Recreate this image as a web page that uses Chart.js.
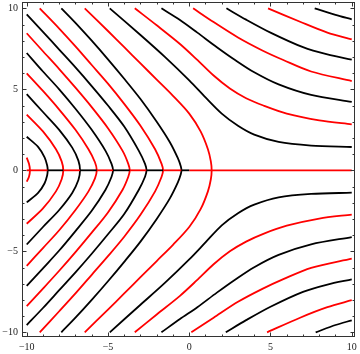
<!DOCTYPE html>
<html>
<head>
<meta charset="utf-8">
<script src="https://cdn.jsdelivr.net/npm/chart.js@4/dist/chart.umd.min.js"></script>
<style>
  html, body { margin: 0; padding: 0; background: #fff; }
</style>
</head>
<body>
<canvas id="myChart" width="360" height="354"></canvas>
<script>
// tick labels
const xTickLabels = [-10, -5, 0, 5, 10];
const yTickLabels = [-10, -5, 0, 5, 10];

// curves that cross the axis on the left
const a1 = [[-10, 0.78], [-9.86, 0.4], [-9.8, 0], [-9.86, -0.4], [-10, -0.7]];
const a2 = [[-10, 2.07], [-9.3, 1.45], [-8.9, 0.8], [-8.74, 0.3], [-8.71, 0], [-8.74, -0.3], [-8.9, -0.8], [-9.3, -1.4], [-10, -1.98]];
const a3 = [[-10, 3.44], [-9, 2.4], [-8.2, 1.3], [-7.85, 0.55], [-7.75, 0], [-7.85, -0.55], [-8.2, -1.3], [-9, -2.35], [-10, -3.3]];
const a4 = [[-10, 4.7], [-9, 3.6], [-8, 2.5], [-7.2, 1.4], [-6.82, 0.6], [-6.72, 0], [-6.82, -0.6], [-7.2, -1.4], [-8, -2.45], [-9, -3.5], [-10, -4.58]];
const a5 = [[-10, 5.99], [-9, 4.9], [-8, 3.75], [-7, 2.5], [-6.2, 1.3], [-5.8, 0.5], [-5.69, 0], [-5.8, -0.5], [-6.2, -1.3], [-7, -2.45], [-8, -3.7], [-9, -4.8], [-10, -5.9]];
const a6 = [[-10, 7.24], [-9, 6.1], [-8, 5.0], [-7, 3.8], [-6, 2.5], [-5.15, 1.2], [-4.78, 0.4], [-4.69, 0], [-4.78, -0.4], [-5.15, -1.2], [-6, -2.5], [-7, -3.75], [-8, -4.95], [-9, -6.05], [-10, -7.14]];
const a7 = [[-10, 8.46], [-9, 7.35], [-8, 6.25], [-7, 5.1], [-6, 3.9], [-5, 2.6], [-4.1, 1.2], [-3.75, 0.4], [-3.66, 0], [-3.75, -0.4], [-4.1, -1.2], [-5, -2.6], [-6, -3.85], [-7, -5.05], [-8, -6.2], [-9, -7.3], [-10, -8.38]];
const a8 = [[-10, 9.62], [-9, 8.55], [-8, 7.45], [-7, 6.35], [-6, 5.2], [-5, 4.0], [-4, 2.7], [-3.1, 1.2], [-2.72, 0.4], [-2.63, 0], [-2.72, -0.4], [-3.1, -1.2], [-4, -2.7], [-5, -3.95], [-6, -5.15], [-7, -6.3], [-8, -7.4], [-9, -8.5], [-10, -9.55]];
const c1 = [[-9.2, 10], [-8, 8.75], [-7, 7.65], [-6, 6.5], [-5, 5.35], [-4, 4.1], [-3, 2.75], [-2.1, 1.3], [-1.7, 0.4], [-1.61, 0], [-1.7, -0.4], [-2.1, -1.3], [-3, -2.75], [-4, -4.1], [-5, -5.3], [-6, -6.45], [-7, -7.6], [-8, -8.7], [-9.2, -10]];
const c2 = [[-7.87, 10], [-7, 9.1], [-6, 8.0], [-5, 6.85], [-4, 5.65], [-3, 4.4], [-2, 3.0], [-1.2, 1.75], [-0.7, 0.75], [-0.52, 0.25], [-0.48, 0], [-0.52, -0.25], [-0.7, -0.75], [-1.2, -1.75], [-2, -3.0], [-3, -4.4], [-4, -5.65], [-5, -6.85], [-6, -8.0], [-7, -9.1], [-7.87, -10]];
const c3 = [[-6.43, 10], [-5, 8.6], [-4, 7.6], [-3, 6.6], [-2, 5.6], [-1, 4.6], [0, 3.5], [0.7, 2.4], [1.15, 1.3], [1.33, 0.55], [1.38, 0], [1.33, -0.55], [1.15, -1.3], [0.7, -2.4], [0, -3.5], [-1, -4.6], [-2, -5.6], [-3, -6.6], [-4, -7.6], [-5, -8.6], [-6.43, -10]];

// curves between the top edge and the right edge
const d1 = [[-4.89, 10], [-3, 8.35], [-1.5, 7.0], [0, 5.55], [1, 4.5], [2, 3.5], [3, 2.75], [4, 2.2], [5.5, 1.75], [7.5, 1.53], [10, 1.44]];
const d2 = [[-3.35, 10], [-2, 8.95], [-0.57, 7.8], [0.46, 6.85], [1.5, 5.85], [2.5, 5.05], [3.5, 4.45], [4.56, 4.0], [6, 3.5], [8, 3.08], [10, 2.84]];
const d3 = [[-1.71, 10], [-0.57, 9.28], [0.5, 8.5], [1.7, 7.6], [2.82, 6.81], [4, 6.05], [5.5, 5.3], [7.5, 4.65], [10, 4.22]];
const d4 = [[0.24, 10], [1.5, 9.15], [3, 8.2], [4.5, 7.4], [5.79, 6.81], [7.5, 6.1], [10, 5.51]];
const d5 = [[2.29, 10], [3.5, 9.3], [5, 8.5], [7, 7.6], [8.5, 7.15], [10, 6.83]];
const d6 = [[4.85, 10], [6.82, 9.17], [8.5, 8.5], [10, 8.09]];
const d7 = [[7.72, 10], [9, 9.6], [10, 9.32]];

// curves between the bottom edge and the right edge
const e1 = [[-4.89, -10], [-3, -8.3], [-1.5, -6.95], [0, -5.5], [1, -4.45], [2, -3.4], [3, -2.65], [4, -2.12], [5.5, -1.67], [7.5, -1.46], [10, -1.38]];
const e2 = [[-3.35, -10], [-2, -8.9], [-0.57, -7.75], [0.46, -6.8], [1.5, -5.8], [2.5, -5.0], [3.5, -4.4], [4.56, -3.92], [6, -3.42], [8, -2.98], [10, -2.73]];
const e3 = [[-1.71, -10], [-0.57, -9.18], [0.5, -8.45], [1.7, -7.55], [2.82, -6.75], [4, -5.98], [5.5, -5.22], [7.5, -4.57], [10, -4.12]];
const e4 = [[0.13, -10], [1.5, -9.1], [3, -8.12], [4.5, -7.32], [5.79, -6.72], [7.5, -6.02], [10, -5.45]];
const e5 = [[2.25, -10], [3.5, -9.25], [5, -8.42], [7, -7.5], [8.5, -7.05], [10, -6.73]];
const e6 = [[4.79, -10], [6.82, -9.1], [8.5, -8.45], [10, -8.02]];
const e7 = [[7.78, -10], [9, -9.55], [10, -9.26]];

// pieces of the line y = 0
const axisRed = [[-10, -8.71], [-7.75, -6.72], [-5.69, -4.69], [-3.66, -2.63], [-1.61, -0.48], [0, 10]];
const axisBlack = [[-8.71, -7.75], [-6.72, -5.69], [-4.69, -3.66], [-2.63, -1.61], [-0.48, 0]];

const blackCurves = [a2, a4, a6, a8, c2, d1, d3, d5, d7, e1, e3, e5, e7];
const redCurves = [a1, a3, a5, a7, c1, c3, d2, d4, d6, e2, e4, e6];

const RED = "rgb(255, 0, 0)";
const BLACK = "rgb(0, 0, 0)";

function curveDataset(points, color) {
    return {
        data: points.map(([x, y]) => ({ x, y })),
        borderColor: color,
        borderWidth: 1.8,
        showLine: true,
        pointRadius: 0,
        tension: 0.3,
        fill: false,
    };
}

function axisDataset([x0, x1], color) {
    return {
        data: [{ x: x0, y: 0 }, { x: x1, y: 0 }],
        borderColor: color,
        borderWidth: 1.8,
        showLine: true,
        pointRadius: 0,
        tension: 0,
        fill: false,
    };
}

const datasets = [
    ...axisBlack.map((s) => axisDataset(s, BLACK)),
    ...axisRed.map((s) => axisDataset(s, RED)),
    ...blackCurves.map((c) => curveDataset(c, BLACK)),
    ...redCurves.map((c) => curveDataset(c, RED)),
];

// frame with inward ticks, like the original
const framePlugin = {
    id: "frame",
    afterDatasetsDraw(chart) {
        const { ctx, chartArea: area, scales } = chart;
        const sx = scales.x;
        const sy = scales.y;
        ctx.save();
        ctx.strokeStyle = "#333";
        ctx.lineWidth = 1;
        ctx.strokeRect(area.left + 0.5, area.top + 0.5, area.right - area.left - 1, area.bottom - area.top - 1);

        for (let v = -10; v <= 10; v++) {
            const len = v % 5 === 0 ? 4.5 : 2.5;
            const px = Math.round(sx.getPixelForValue(v)) + 0.5;
            const py = Math.round(sy.getPixelForValue(v)) + 0.5;
            ctx.beginPath();
            ctx.moveTo(px, area.bottom);
            ctx.lineTo(px, area.bottom - len);
            ctx.moveTo(px, area.top);
            ctx.lineTo(px, area.top + len);
            ctx.moveTo(area.left, py);
            ctx.lineTo(area.left + len, py);
            ctx.moveTo(area.right, py);
            ctx.lineTo(area.right - len, py);
            ctx.stroke();
        }

        ctx.fillStyle = "#222";
        ctx.font = "10px 'Liberation Serif'";
        ctx.textAlign = "center";
        ctx.textBaseline = "top";
        xTickLabels.forEach((v) => {
            const label = v < 0 ? "\u2212" + Math.abs(v) : String(v);
            ctx.fillText(label, sx.getPixelForValue(v), area.bottom + 5);
        });
        ctx.textAlign = "right";
        ctx.textBaseline = "middle";
        yTickLabels.forEach((v) => {
            const label = v < 0 ? "\u2212" + Math.abs(v) : String(v);
            ctx.fillText(label, area.left - 4, sy.getPixelForValue(v));
        });
        ctx.restore();
    },
};

const canvas = document.getElementById("myChart");
const myChart = new Chart(canvas, {
    type: "scatter",
    data: { datasets },
    options: {
        responsive: false,
        devicePixelRatio: 1,
        animation: false,
        layout: { padding: { left: 22, right: 5, top: 2, bottom: 17 } },
        plugins: { legend: { display: false }, tooltip: { enabled: false } },
        scales: {
            x: { type: "linear", min: -10.29, max: 10.2, display: false },
            y: { type: "linear", min: -10.29, max: 10.39, display: false },
        },
    },
    plugins: [framePlugin],
});
</script>
</body>
</html>
